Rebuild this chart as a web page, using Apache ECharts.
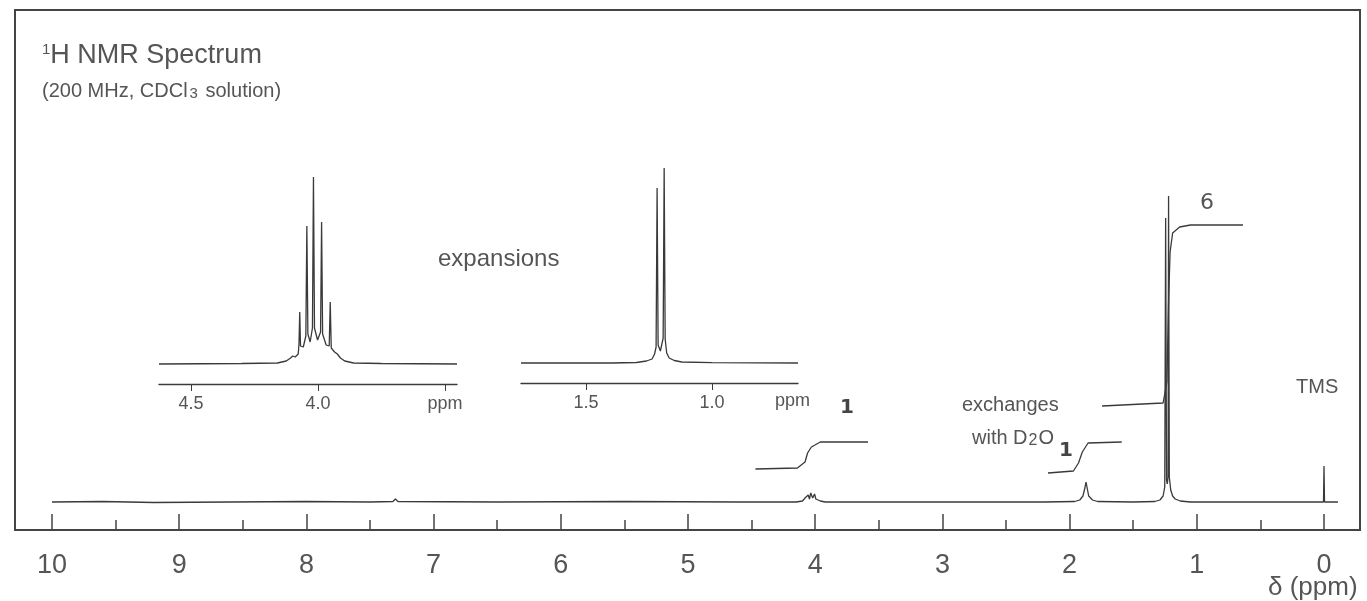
<!DOCTYPE html>
<html>
<head>
<meta charset="utf-8">
<script src="https://cdn.jsdelivr.net/npm/echarts@6/dist/echarts.min.js"></script>
<style>
html, body { margin: 0; padding: 0; background: #fff; }
#chart { width: 1367px; height: 601px; }
</style>
</head>
<body>
<div id="chart"></div>
<script>
// ppm / height pairs (height = pixels above the baseline)
var mainSpectrum = [
  [10.0, 0], [9.6, 0.5], [9.2, -0.5], [8.6, 0], [8.0, 0.5], [7.5, 0],
  [7.32, 0.5], [7.30, 3], [7.28, 0.5], [6.5, 0], [5.5, 0.5], [4.6, 0],
  [4.15, 0], [4.10, 1], [4.08, 4], [4.07, 2], [4.055, 7], [4.045, 3],
  [4.035, 9], [4.02, 4], [4.005, 8], [3.995, 3], [3.98, 5], [3.96, 1], [3.92, 0],
  [3.0, 0], [2.2, 0], [1.96, 0.5], [1.92, 2], [1.895, 6], [1.88, 14], [1.871, 20],
  [1.862, 14], [1.85, 6], [1.82, 2], [1.78, 0.5], [1.5, 0],
  [1.33, 0.5], [1.29, 2], [1.265, 6], [1.252, 15], [1.245, 284], [1.238, 22],
  [1.232, 18], [1.226, 25], [1.222, 306], [1.216, 25], [1.205, 12], [1.19, 6],
  [1.17, 3], [1.13, 1], [1.05, 0], [0.3, 0], [0.004, 0], [0.0, 36], [-0.004, 0], [-0.11, 0]
];
var integralCH = [[4.47, 33], [4.14, 34], [4.08, 40], [4.06, 49], [4.03, 55], [3.96, 60], [3.585, 60]];
var integralOH = [[2.17, 29], [1.97, 31], [1.93, 39], [1.90, 50], [1.855, 59], [1.59, 60]];
var integralCH3 = [[1.745, 96], [1.265, 99], [1.235, 120], [1.222, 200], [1.21, 250], [1.19, 269], [1.135, 275], [1.05, 277], [0.637, 277]];

var septetExpansion = [
  [4.626, 0], [4.30, 0.5], [4.16, 1], [4.125, 3], [4.108, 6], [4.100, 8], [4.090, 7],
  [4.078, 10], [4.075, 20], [4.072, 52], [4.069, 18], [4.058, 17],
  [4.048, 28], [4.044, 138], [4.040, 30], [4.031, 22],
  [4.022, 36], [4.018, 187], [4.014, 36], [4.002, 24],
  [3.990, 32], [3.986, 142], [3.982, 30], [3.968, 19],
  [3.956, 18], [3.952, 62], [3.948, 16], [3.935, 12],
  [3.924, 10], [3.920, 11], [3.912, 6], [3.895, 3], [3.86, 1], [3.75, 0.5], [3.453, 0]
];
var doubletExpansion = [
  [1.758, 0], [1.40, 0], [1.30, 0.5], [1.26, 2], [1.238, 4], [1.228, 9], [1.222, 16],
  [1.218, 175], [1.214, 18], [1.205, 12], [1.198, 14], [1.194, 25], [1.190, 195],
  [1.186, 24], [1.180, 10], [1.170, 5], [1.150, 2.5], [1.120, 1], [1.0, 0.3], [0.659, 0]
];

var majorTicks = [0, 1, 2, 3, 4, 5, 6, 7, 8, 9, 10];
var minorTicks = [0.5, 1.5, 2.5, 3.5, 4.5, 5.5, 6.5, 7.5, 8.5, 9.5];
var exp1Ticks = [4.5, 4.0, 3.5];
var exp2Ticks = [1.5, 1.0];

var FONT = '"Liberation Sans", Arial, sans-serif';
var INK = '#3a3a3a';
var TXT = '#555';

var chart = echarts.init(document.getElementById('chart'));

function lineSeries(data, xi, yi, w) {
  return {
    type: 'line', data: data, xAxisIndex: xi, yAxisIndex: yi,
    showSymbol: false, symbol: 'none', smooth: false,
    lineStyle: { color: INK, width: w || 1.3 },
    silent: true
  };
}

function txt(text, x, y, size, extra) {
  var st = {
    text: text, x: x, y: y, fill: TXT,
    font: size + 'px ' + FONT,
    align: 'left', verticalAlign: 'middle'
  };
  for (var k in extra) st[k] = extra[k];
  return { type: 'text', silent: true, style: st };
}

var option = {
  animation: false,
  backgroundColor: '#fff',
  grid: [
    { left: 15, right: 7, top: 10, bottom: 71, show: true, borderColor: '#444', borderWidth: 2 },
    { left: 159, width: 298, top: 160, height: 224 },
    { left: 521, width: 277, top: 160, height: 223 }
  ],
  xAxis: [
    {
      gridIndex: 0, type: 'value', position: 'bottom', inverse: true, min: -0.283, max: 10.291,
      axisLine: { show: false, onZero: false }, splitLine: { show: false },
      axisTick: { show: true, inside: true, length: 16, customValues: majorTicks, lineStyle: { color: '#444', width: 1.5 } },
      axisLabel: { show: true, customValues: majorTicks, margin: 22, fontSize: 27, color: TXT, fontFamily: FONT }
    },
    {
      gridIndex: 0, type: 'value', position: 'bottom', inverse: true, min: -0.283, max: 10.291,
      axisLine: { show: false, onZero: false }, splitLine: { show: false },
      axisTick: { show: true, inside: true, length: 10, customValues: minorTicks, lineStyle: { color: '#444', width: 1.5 } },
      axisLabel: { show: false }
    },
    {
      gridIndex: 1, type: 'value', position: 'bottom', inverse: true, min: 3.453, max: 4.626,
      axisLine: { show: true, onZero: false, lineStyle: { color: INK, width: 1.3 } }, splitLine: { show: false },
      axisTick: { show: true, length: 7, customValues: exp1Ticks, lineStyle: { color: INK } },
      axisLabel: {
        show: true, customValues: exp1Ticks, margin: 11, fontSize: 18, color: TXT, fontFamily: FONT,
        formatter: function (v) { return v === 3.5 ? 'ppm' : v.toFixed(1); }
      }
    },
    {
      gridIndex: 2, type: 'value', position: 'bottom', inverse: true, min: 0.659, max: 1.758,
      axisLine: { show: true, onZero: false, lineStyle: { color: INK, width: 1.3 } }, splitLine: { show: false },
      axisTick: { show: true, length: 7, customValues: exp2Ticks, lineStyle: { color: INK } },
      axisLabel: {
        show: true, customValues: exp2Ticks, margin: 11, fontSize: 18, color: TXT, fontFamily: FONT,
        formatter: function (v) { return v.toFixed(1); }
      }
    }
  ],
  yAxis: [
    { gridIndex: 0, type: 'value', min: -28, max: 492, show: false },
    { gridIndex: 1, type: 'value', min: -20, max: 204, show: false },
    { gridIndex: 2, type: 'value', min: -20, max: 203, show: false }
  ],
  series: [
    lineSeries(mainSpectrum, 0, 0, 1.3),
    lineSeries(integralCH, 0, 0, 1.3),
    lineSeries(integralOH, 0, 0, 1.3),
    lineSeries(integralCH3, 0, 0, 1.3),
    lineSeries(septetExpansion, 2, 1, 1.3),
    lineSeries(doubletExpansion, 3, 2, 1.3)
  ],
  graphic: [
    txt('{s|1}H NMR Spectrum', 42, 56, 27, {
      rich: { s: { fontSize: 15, fontFamily: FONT, fill: TXT, verticalAlign: 'top' } }
    }),
    txt('(200 MHz, CDCl{b|3} solution)', 42, 91, 20, {
      rich: { b: { fontSize: 15, fontFamily: FONT, fill: TXT, verticalAlign: 'bottom', padding: [6, 2, 0, 2] } }
    }),
    txt('expansions', 438, 259, 24),
    txt('ppm', 775, 401, 18),
    txt('exchanges', 962, 405, 20),
    txt('with D{b|2}O', 972, 438, 20, {
      rich: { b: { fontSize: 16, fontFamily: FONT, fill: TXT, verticalAlign: 'bottom', padding: [5, 1, 0, 1] } }
    }),
    txt('TMS', 1296, 387, 20),
    txt('δ (ppm)', 1268, 588, 26),
    txt('1', 840, 408, 20, { fill: '#444', font: 'bold 20px "DejaVu Sans"' }),
    txt('1', 1059, 451, 20, { fill: '#444', font: 'bold 20px "DejaVu Sans"' }),
    txt('6', 1200, 203, 22, { fill: '#555', font: '22px "DejaVu Sans"' })
  ]
};

chart.setOption(option);
</script>
</body>
</html>
